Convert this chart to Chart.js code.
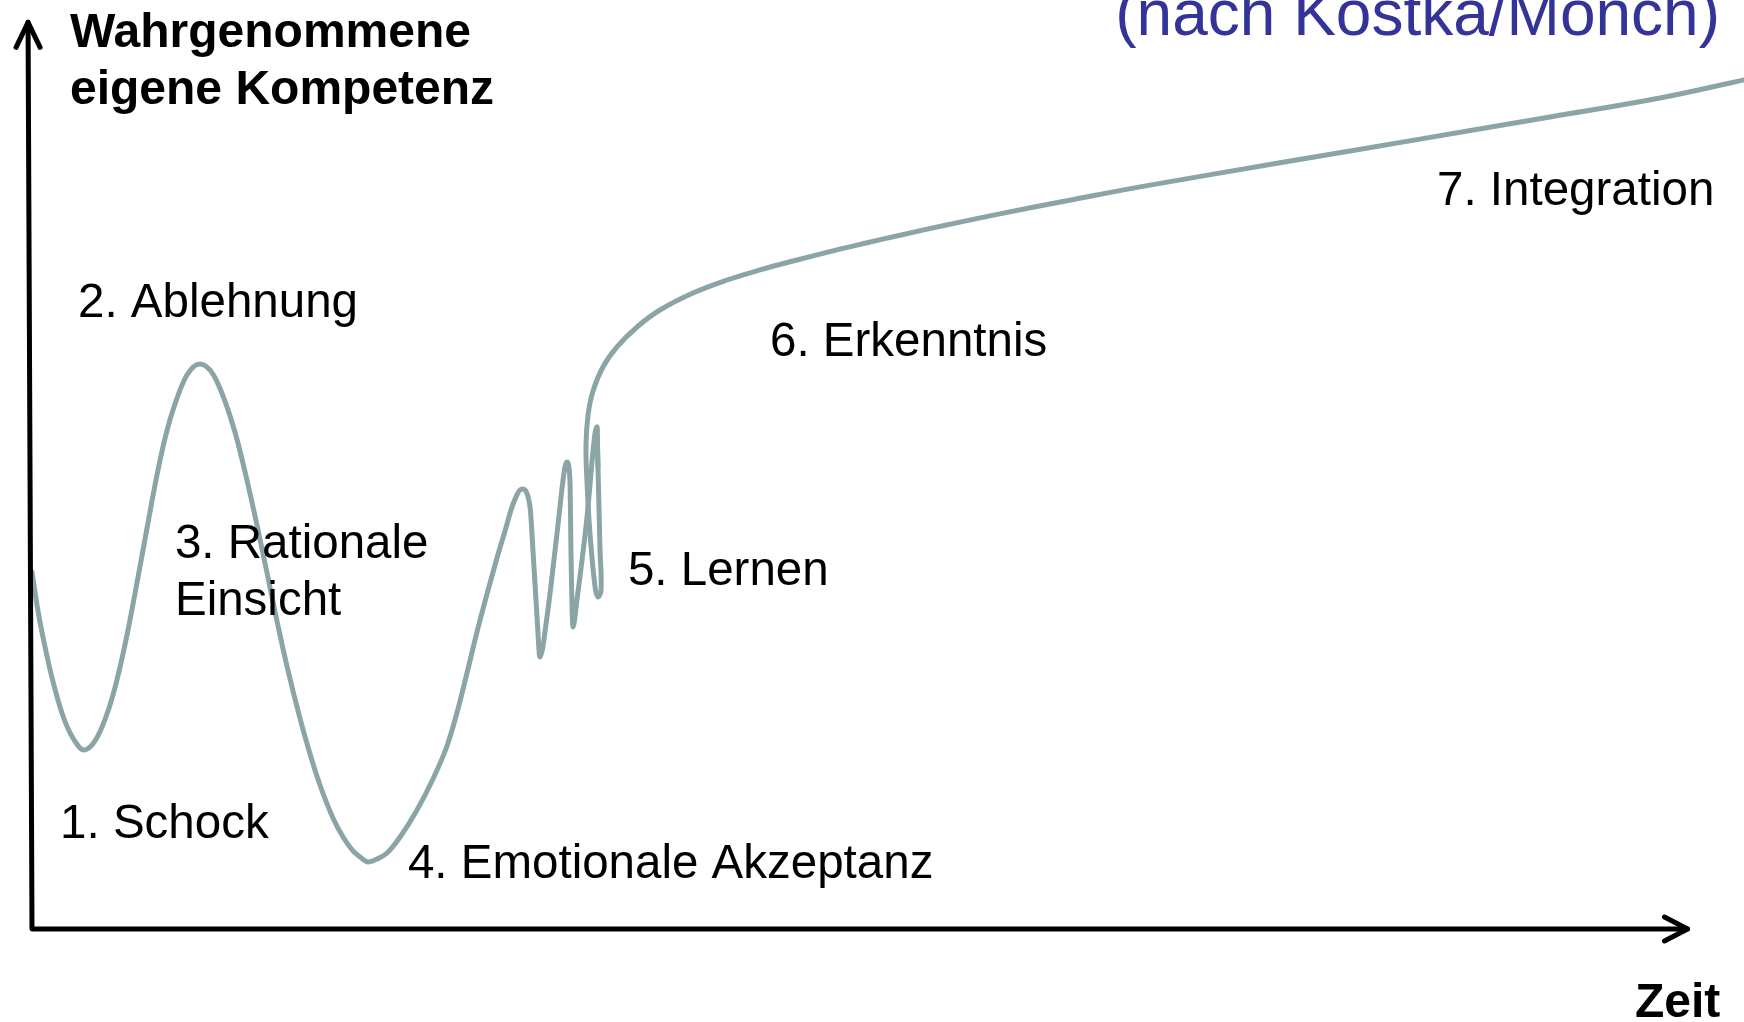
<!DOCTYPE html>
<html>
<head>
<meta charset="utf-8">
<script src="https://cdn.jsdelivr.net/npm/chart.js@4.4.1/dist/chart.umd.min.js"></script>
<style>
  html, body { margin: 0; padding: 0; background: #fff; }
  #wrap { width: 1744px; height: 1022px; }
</style>
</head>
<body>
<div id="wrap"><canvas id="changeChart" width="1744" height="1022"></canvas></div>
<script>
// Zeit (x) und wahrgenommene Kompetenz (y)
// Teil 1: Schock bis Lernen (Zeit steigt monoton)
const zeitWellen = [
  0.00, 0.29, 0.64, 1.23, 1.81, 2.39, 3.04, 3.68, 4.38, 4.96,
  5.55, 6.13, 6.72, 7.30, 7.83, 8.35, 9.05, 9.81, 10.57, 11.27,
  11.92, 12.50, 13.14, 13.73, 14.31, 14.89, 15.65, 16.24, 16.82, 17.58,
  18.17, 18.75, 19.16, 19.63, 20.15, 20.74, 21.50, 22.49, 23.42, 24.24,
  24.82, 25.41, 26.05, 26.64, 27.16, 27.63, 28.10, 28.62, 29.09, 29.26,
  29.50, 29.67, 30.08, 30.67, 31.13, 31.25, 31.43, 31.48, 31.60, 31.83,
  32.42, 32.89, 33.00, 33.06
];
const kompetenzWellen = [
  38.43, 34.88, 31.43, 26.59, 22.93, 20.56, 19.27, 20.24, 23.14, 26.80,
  31.65, 37.24, 43.16, 48.88, 53.28, 56.51, 59.63, 60.82, 59.74, 56.83,
  53.07, 48.76, 43.49, 38.32, 33.15, 28.31, 22.71, 18.84, 15.50, 11.95,
  9.90, 8.40, 7.75, 7.21, 7.53, 8.18, 9.90, 12.81, 16.15, 19.70,
  23.25, 27.56, 32.40, 36.49, 39.94, 42.84, 45.75, 47.36, 45.43, 40.80,
  33.58, 29.28, 33.58, 42.63, 49.73, 50.27, 48.01, 40.80, 32.51, 35.41,
  44.35, 53.39, 54.04, 49.73
];
// Teil 2: Schleife, Erkenntnis und Integration
const zeitAufstieg = [
  33.00, 33.06, 33.18, 33.24, 33.06, 32.89, 32.59, 32.42, 32.36, 32.48,
  32.77, 33.35, 34.17, 35.34, 36.68, 38.61, 40.60, 42.52, 44.57, 46.61,
  48.66, 50.70, 53.62, 56.60, 60.92, 65.30, 73.07, 80.90, 88.67, 95.09,
  100.00
];
const kompetenzAufstieg = [
  54.04, 49.73, 40.80, 36.49, 35.74, 36.81, 42.63, 48.01, 52.10, 55.33,
  57.91, 60.50, 62.65, 64.80, 66.63, 68.46, 69.86, 70.94, 71.96, 72.92,
  73.82, 74.68, 75.86, 77.01, 78.56, 80.07, 82.53, 84.97, 87.41, 89.45,
  91.39
];

const phasen = [
  ['1. Schock'],
  ['2. Ablehnung'],
  ['3. Rationale', 'Einsicht'],
  ['4. Emotionale Akzeptanz'],
  ['5. Lernen'],
  ['6. Erkenntnis'],
  ['7. Integration']
];
const yTitel = ['Wahrgenommene', 'eigene Kompetenz'];
const xTitel = 'Zeit';
const quelle = '(nach Kostka/Mönch)';

// Ankerpunkte der Beschriftungen (in Achseneinheiten)
const phasenPos = [
  [1.64, 9.8], [2.69, 65.9], [8.35, 39.9], [21.96, 5.5],
  [34.81, 37.0], [43.11, 61.7], [82.07, 77.9]
];

const toPoints = (xs, ys) => xs.map((x, i) => ({ x: x, y: ys[i] }));

const FONT = '"Liberation Sans", Arial, Helvetica, sans-serif';
const curveStyle = {
  showLine: true,
  borderColor: '#8ba5a7',
  backgroundColor: '#8ba5a7',
  borderWidth: 5,
  borderCapStyle: 'round',
  borderJoinStyle: 'round',
  pointRadius: 0,
  clip: false
};

const annotations = {
  id: 'annotations',
  afterDatasetsDraw(chart) {
    const c = chart.ctx;
    const xs = chart.scales.x;
    const ys = chart.scales.y;
    const x0 = xs.getPixelForValue(0);
    const y0 = ys.getPixelForValue(0);
    const xEnd = xs.getPixelForValue(96.7);
    const yTop = ys.getPixelForValue(97.6);
    const yTopX = xs.getPixelForValue(-0.23);

    c.save();
    c.strokeStyle = '#000';
    c.lineWidth = 5;
    c.lineCap = 'round';
    c.lineJoin = 'round';
    // axes
    c.beginPath();
    c.moveTo(yTopX, yTop);
    c.lineTo(x0, y0);
    c.lineTo(xEnd, y0);
    c.stroke();
    // arrow heads
    c.beginPath();
    c.moveTo(xEnd - 23, y0 - 12);
    c.lineTo(xEnd, y0);
    c.lineTo(xEnd - 23, y0 + 12);
    c.stroke();
    c.beginPath();
    c.moveTo(yTopX - 12, yTop + 25);
    c.lineTo(yTopX, yTop);
    c.lineTo(yTopX + 12, yTop + 25);
    c.stroke();

    // axis titles
    c.fillStyle = '#000';
    c.textBaseline = 'alphabetic';
    c.textAlign = 'left';
    c.font = 'bold 48px ' + FONT;
    yTitel.forEach((t, i) => c.fillText(t, 70, 47 + i * 57));
    c.fillText(xTitel, 1635, 1017);

    // phase labels
    c.font = '47.5px ' + FONT;
    phasen.forEach((lines, i) => {
      const px = xs.getPixelForValue(phasenPos[i][0]);
      const py = ys.getPixelForValue(phasenPos[i][1]);
      lines.forEach((t, j) => c.fillText(t, px, py + j * 57));
    });

    // source
    c.fillStyle = '#333399';
    c.font = '64px ' + FONT;
    c.textAlign = 'right';
    c.fillText(quelle, 1720, 35);
    c.restore();
  }
};

new Chart(document.getElementById('changeChart'), {
  type: 'scatter',
  data: {
    datasets: [
      Object.assign({ data: toPoints(zeitWellen, kompetenzWellen), cubicInterpolationMode: 'monotone' }, curveStyle),
      Object.assign({ data: toPoints(zeitAufstieg, kompetenzAufstieg), tension: 0.4 }, curveStyle)
    ]
  },
  options: {
    responsive: false,
    animation: false,
    devicePixelRatio: 1,
    layout: { padding: { left: 32, right: 0, top: 0, bottom: 93 } },
    plugins: { legend: { display: false }, tooltip: { enabled: false } },
    scales: {
      x: { type: 'linear', min: 0, max: 100, display: false },
      y: { type: 'linear', min: 0, max: 100, display: false }
    }
  },
  plugins: [annotations]
});
</script>
</body>
</html>
